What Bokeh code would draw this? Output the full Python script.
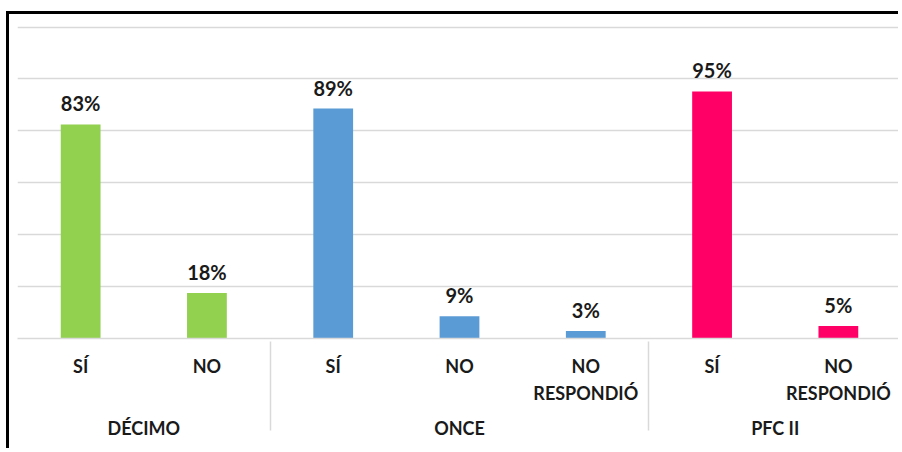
from bokeh.plotting import figure
from bokeh.models import FactorRange, Range1d, ColumnDataSource, LabelSet, SingleIntervalTicker
from bokeh.transform import factor_cmap
from bokeh.core.properties import value
from bokeh.embed import file_html
from bokeh.resources import INLINE

# ---- data ----
group_names = ["DÉCIMO", "ONCE", "PFC II"]
group_colors = ["#92D050", "#5B9BD5", "#FF0066"]
groups = ["DÉCIMO", "DÉCIMO", "ONCE", "ONCE", "ONCE", "PFC II", "PFC II"]
answers = ["SÍ", "NO", "SÍ", "NO", "NO\nRESPONDIÓ", "SÍ", "NO\nRESPONDIÓ"]
values = [82.5, 17.5, 88.6, 8.6, 2.9, 95.2, 4.8]
labels = ["83%", "18%", "89%", "9%", "3%", "95%", "5%"]

x = list(zip(groups, answers))
src = ColumnDataSource(dict(x=x, value=values, label=labels, group=groups))

TEXT = "#1a1a1a"
GRID = "#d9d9d9"

p = figure(
    x_range=FactorRange(*x, range_padding=0, group_padding=0, factor_padding=0),
    y_range=Range1d(0, 121),
    width=892, height=437,
    output_backend="svg", toolbar_location=None,
    min_border_left=8, min_border_right=0, min_border_top=10, min_border_bottom=113,
)

p.vbar(x="x", top="value", width=0.315, source=src,
       fill_color=factor_cmap("x", palette=group_colors, factors=group_names, end=1),
       line_color=None)

p.add_layout(LabelSet(x="x", y="value", text="label", source=src, y_offset=13,
                      text_align="center", text_baseline="alphabetic",
                      text_font=value("Lato"), text_font_style="bold",
                      text_font_size="20px", text_color=TEXT))

ax = p.xaxis[0]
ax.axis_line_color = GRID
ax.axis_line_width = 1.5
ax.major_tick_line_color = None
ax.minor_tick_line_color = None
ax.major_label_text_font = "Lato"
ax.major_label_text_font_style = "bold"
ax.major_label_text_font_size = "18px"
ax.major_label_text_color = TEXT
ax.major_label_text_line_height = 1.25
ax.major_label_standoff = 10
ax.group_text_font = "Lato"
ax.group_text_font_style = "bold"
ax.group_text_font_size = "18px"
ax.group_text_color = TEXT
ax.group_text_line_height = 1.8
ax.separator_line_color = GRID
ax.separator_line_width = 1.5

p.yaxis.visible = False
p.ygrid[0].ticker = SingleIntervalTicker(interval=20, num_minor_ticks=0)
p.ygrid.grid_line_color = GRID
p.ygrid.grid_line_width = 1.3
p.xgrid.visible = False
p.outline_line_color = None
p.styles = {"border-left": "3px solid black", "border-top": "3px solid black",
            "margin-left": "6px", "margin-top": "11px"}

open("out.html", "w").write(file_html(p, INLINE))
